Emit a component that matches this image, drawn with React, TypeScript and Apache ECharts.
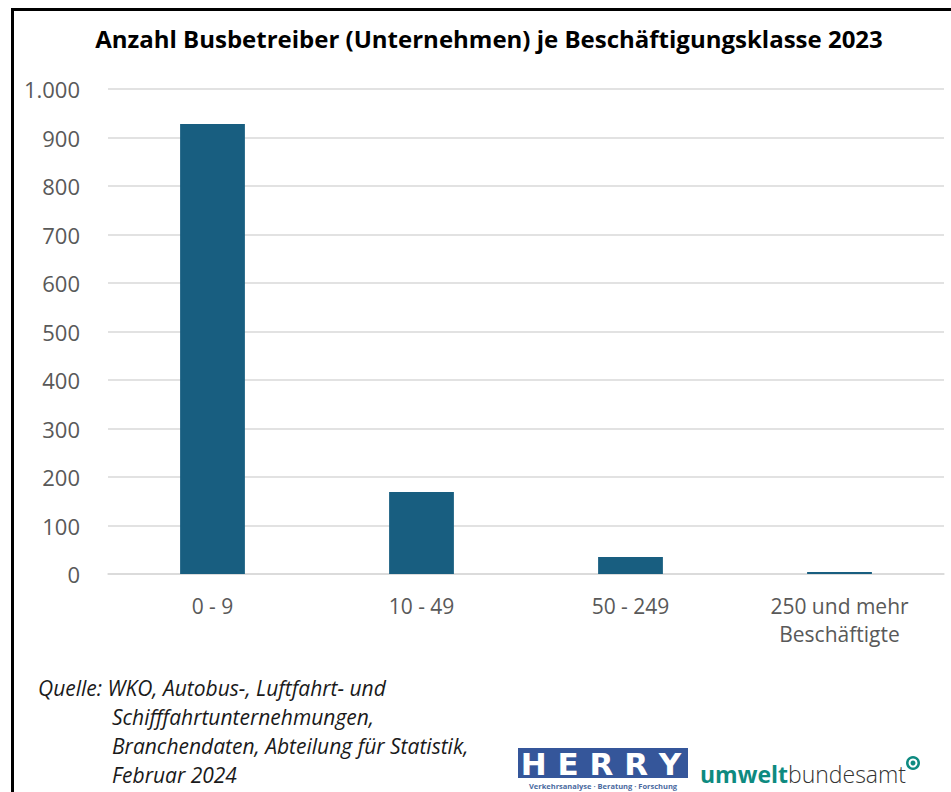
import React, { useEffect, useRef } from "react";
import * as echarts from "echarts";

const categories = ["0 - 9", "10 - 49", "50 - 249", "250 und mehr\nBeschäftigte"];
const companies = [928, 169, 35, 4];
const yTicks = { min: 0, max: 1000, interval: 100 };
const titleText = "Anzahl Busbetreiber (Unternehmen) je Beschäftigungsklasse 2023";
const sourceLines = [
  "Quelle: WKO, Autobus-, Luftfahrt- und",
  "Schifffahrtunternehmungen,",
  "Branchendaten, Abteilung für Statistik,",
  "Februar 2024",
];

const FONT = "'Open Sans', 'Noto Sans', sans-serif";

export default function App() {
  const ref = useRef<HTMLDivElement>(null);
  useEffect(() => {
    if (!ref.current) return;
    const chart = echarts.init(ref.current, null, { renderer: "svg" });
    const fmt = (v: number) => String(v).replace(/\B(?=(\d{3})+(?!\d))/g, ".");
    chart.setOption({
      animation: false,
      backgroundColor: "#ffffff",
      title: {
        text: titleText,
        left: 484,
        textAlign: "center",
        top: 21,
        textStyle: { fontFamily: FONT, fontSize: 24, fontWeight: "bold", color: "#000000" },
      },
      grid: { left: 108, right: 7, top: 89, bottom: 218, containLabel: false },
      xAxis: {
        type: "category",
        data: categories,
        axisLine: { lineStyle: { color: "#d9d9d9", width: 1.5 } },
        axisTick: { show: false },
        axisLabel: {
          fontFamily: FONT,
          fontSize: 21,
          color: "#595959",
          margin: 18,
          lineHeight: 28,
          interval: 0,
        },
      },
      yAxis: {
        type: "value",
        min: yTicks.min,
        max: yTicks.max,
        interval: yTicks.interval,
        axisLine: { show: false },
        axisTick: { show: false },
        splitLine: { lineStyle: { color: "#d9d9d9", width: 1.5 } },
        axisLabel: {
          fontFamily: FONT,
          fontSize: 22,
          color: "#595959",
          margin: 28,
          formatter: fmt,
        },
      },
      series: [
        {
          type: "bar",
          data: companies,
          barWidth: "31%",
          itemStyle: { color: "#185e80" },
        },
      ],
      graphic: [
        { type: "line", shape: { x1: 12.5, y1: 8, x2: 12.5, y2: 800 }, style: { stroke: "#000", lineWidth: 3 } },
        { type: "line", shape: { x1: 11, y1: 9.5, x2: 960, y2: 9.5 }, style: { stroke: "#000", lineWidth: 3 } },
        ...sourceLines.map((t, i) => ({
          type: "text",
          x: i === 0 ? 38 : 112,
          y: 688 + i * 29,
          style: {
            text: t,
            fill: "#1a1a1a",
            font: `italic 21px ${FONT}`,
            verticalAlign: "middle",
          },
        })),
        {
          type: "rect",
          shape: { x: 518, y: 748, width: 170, height: 30 },
          style: { fill: "#35569a" },
        },
        {
          type: "text",
          x: 601,
          y: 764,
          style: {
            text: "H E R R Y",
            fill: "#ffffff",
            font: `900 31px 'DejaVu Sans', sans-serif`,
            lineHeight: 24,
            align: "center",
            verticalAlign: "middle",
          },
        },
        {
          type: "text",
          x: 603,
          y: 785.5,
          style: {
            text: "Verkehrsanalyse · Beratung · Forschung",
            fill: "#4a6aa0",
            font: `bold 7.5px ${FONT}`,
            lineHeight: 8,
            align: "center",
            verticalAlign: "middle",
          },
        },
        {
          type: "text",
          x: 700,
          y: 774,
          style: {
            text: "{a|umwelt}{b|bundesamt}",
            verticalAlign: "middle",
            rich: {
              a: { fill: "#0e8a80", font: `bold 23px ${FONT}` } as any,
              b: { fill: "#333333", font: `300 23px ${FONT}` } as any,
            },
          },
        },
        {
          type: "circle",
          shape: { cx: 913, cy: 763, r: 7 },
          style: { fill: "#0e8a80" },
        },
        {
          type: "circle",
          shape: { cx: 913, cy: 763, r: 3.5 },
          style: { fill: "none", stroke: "#ffffff", lineWidth: 2 },
        },
      ],
    });
    return () => chart.dispose();
  }, []);
  return (
    <div
      ref={ref}
      style={{ position: "absolute", left: 0, top: 0, width: 951, height: 792 }}
    />
  );
}
